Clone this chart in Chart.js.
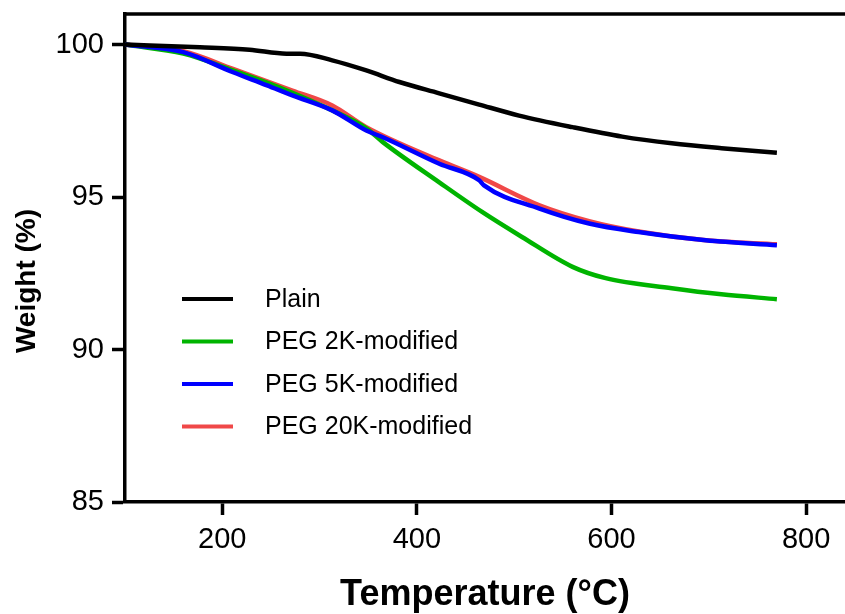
<!DOCTYPE html>
<html>
<head>
<meta charset="utf-8">
<script src="https://cdn.jsdelivr.net/npm/chart.js@4/dist/chart.umd.min.js"></script>
<style>
  html, body { margin: 0; padding: 0; background: #fff; }
  #wrap { width: 845px; height: 614px; }
</style>
</head>
<body>
<div id="wrap"><canvas id="tgaChart" width="845" height="614"></canvas></div>
<script>
// tick labels
const xTicks = [200, 400, 600, 800];
const yTicks = [85, 90, 95, 100];

// series names
const seriesNames = ['Plain', 'PEG 2K-modified', 'PEG 5K-modified', 'PEG 20K-modified'];

// Plain
const plainT = [100, 177, 228, 266, 280, 313, 348, 382, 423, 464, 505, 560, 611, 662, 713, 770];
const plainW = [100.0, 99.91, 99.83, 99.70, 99.70, 99.48, 99.15, 98.77, 98.40, 98.03, 97.67, 97.29, 96.98, 96.76, 96.60, 96.45];

// PEG 2K
const peg2T = [100, 160, 211, 262, 313, 348, 365, 423, 467, 508, 560, 594, 662, 713, 770];
const peg2W = [100.0, 99.70, 99.15, 98.55, 97.84, 97.25, 96.80, 95.48, 94.51, 93.69, 92.71, 92.34, 92.01, 91.81, 91.65];

// PEG 5K
const peg5T = [100, 160, 211, 246, 272, 313, 348, 365, 423, 464, 469, 526, 577, 628, 697, 770];
const peg5W = [100.0, 99.75, 99.09, 98.66, 98.33, 97.84, 97.18, 96.96, 96.09, 95.55, 95.38, 94.62, 94.13, 93.85, 93.58, 93.42];

// PEG 20K
const peg20T = [100, 160, 211, 272, 313, 348, 423, 464, 526, 577, 628, 697, 770];
const peg20W = [100.0, 99.78, 99.20, 98.49, 98.00, 97.29, 96.20, 95.66, 94.73, 94.21, 93.87, 93.58, 93.45];

const toPoints = (t, w) => t.map((v, i) => ({ x: v, y: w[i] }));

Chart.defaults.font.family = '"Liberation Sans", Arial, sans-serif';
Chart.defaults.color = '#000';

// top frame line, y title, legend inside plot
const extras = {
  id: 'extras',
  afterDraw(chart) {
    const ctx = chart.ctx;
    const a = chart.chartArea;
    ctx.save();
    ctx.strokeStyle = '#000';
    ctx.lineWidth = 3.5;
    ctx.beginPath();
    ctx.moveTo(a.left - 1.75, a.top);
    ctx.lineTo(a.right, a.top);
    ctx.stroke();

    // y axis title
    ctx.fillStyle = '#000';
    ctx.font = 'bold 28px "Liberation Sans", Arial, sans-serif';
    ctx.textAlign = 'center';
    ctx.textBaseline = 'middle';
    ctx.translate(27, 281);
    ctx.rotate(-Math.PI / 2);
    ctx.fillText('Weight (%)', 0, 0);
    ctx.restore();

    // legend
    ctx.save();
    ctx.font = '25px "Liberation Sans", Arial, sans-serif';
    ctx.textBaseline = 'middle';
    ctx.textAlign = 'left';
    chart.data.datasets.forEach((ds, i) => {
      const y = 299 + i * 42.5;
      ctx.strokeStyle = ds.borderColor;
      ctx.lineWidth = 4;
      ctx.beginPath();
      ctx.moveTo(182, y);
      ctx.lineTo(233, y);
      ctx.stroke();
      ctx.fillStyle = '#000';
      ctx.fillText(ds.label, 265, y + 1);
    });
    ctx.restore();
  }
};

const tickFont = { size: 29 };

new Chart(document.getElementById('tgaChart'), {
  type: 'line',
  data: {
    datasets: [
      { label: seriesNames[0], data: toPoints(plainT, plainW), borderColor: '#000000', order: 0 },
      { label: seriesNames[1], data: toPoints(peg2T, peg2W), borderColor: '#00B400', order: 2 },
      { label: seriesNames[2], data: toPoints(peg5T, peg5W), borderColor: '#0000FF', order: 1 },
      { label: seriesNames[3], data: toPoints(peg20T, peg20W), borderColor: '#F04848', order: 3 }
    ]
  },
  options: {
    responsive: false,
    animation: false,
    devicePixelRatio: 1,
    layout: { padding: { top: 14, right: 0, bottom: 0, left: 0 } },
    elements: {
      point: { radius: 0 },
      line: { borderWidth: 4.5, cubicInterpolationMode: 'monotone', fill: false }
    },
    plugins: {
      legend: { display: false },
      tooltip: { enabled: false }
    },
    scales: {
      x: {
        type: 'linear',
        min: 100,
        max: 840,
        afterBuildTicks: axis => { axis.ticks = xTicks.map(v => ({ value: v })); },
        afterFit: axis => { axis.height = 112; axis.paddingLeft = 0; axis.paddingRight = 0; },
        ticks: { font: tickFont, color: '#000', padding: 8, maxRotation: 0 },
        grid: { drawOnChartArea: false, drawTicks: true, tickLength: 13, tickWidth: 3.5, tickColor: '#000' },
        border: { color: '#000', width: 3.5 },
        title: {
          display: true,
          text: 'Temperature (°C)',
          color: '#000',
          font: { size: 36, weight: 'bold' },
          padding: { top: 0, bottom: -3 }
        }
      },
      y: {
        type: 'linear',
        min: 85,
        max: 101,
        afterBuildTicks: axis => { axis.ticks = yTicks.map(v => ({ value: v })); },
        afterFit: axis => { axis.width = 125; axis.paddingTop = 0; axis.paddingBottom = 0; },
        ticks: { font: tickFont, color: '#000', padding: 8 },
        grid: { drawOnChartArea: false, drawTicks: true, tickLength: 13, tickWidth: 3.5, tickColor: '#000' },
        border: { color: '#000', width: 3.5 }
      }
    }
  },
  plugins: [extras]
});
</script>
</body>
</html>
